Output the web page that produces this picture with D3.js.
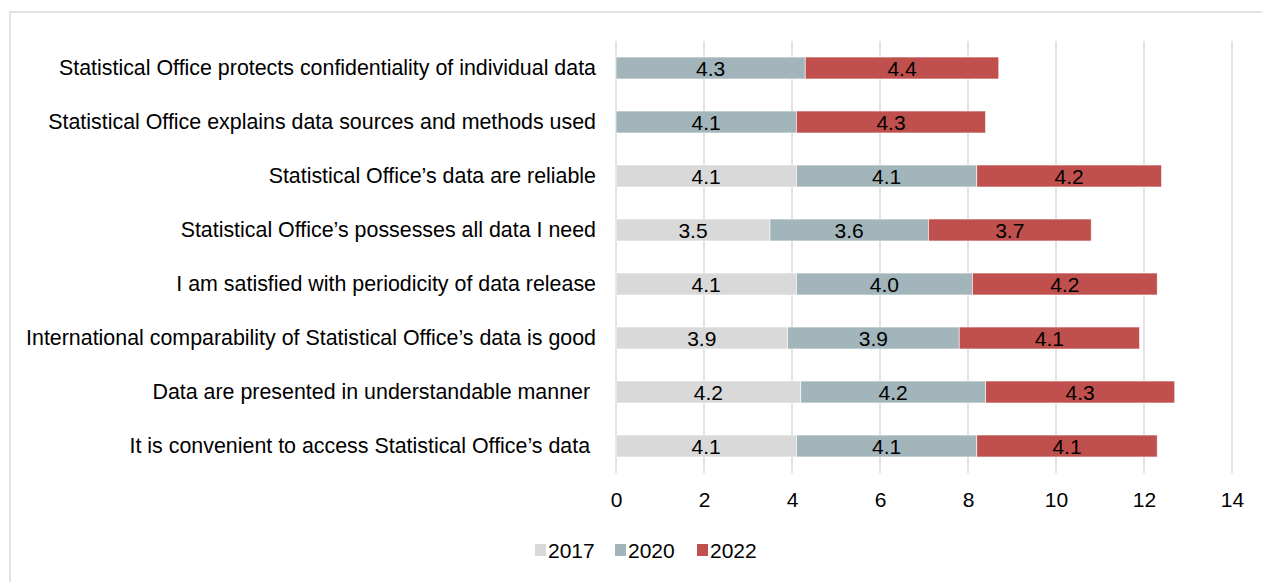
<!DOCTYPE html>
<html>
<head>
<meta charset="utf-8">
<script src="https://cdn.jsdelivr.net/npm/d3@7"></script>
<style>
html,body{margin:0;padding:0;background:#fff;}
svg{display:block;font-family:"Liberation Sans",Arial,sans-serif;}
</style>
</head>
<body>
<svg id="chart" width="1262" height="582"></svg>
<script>
const categories = [
  "Statistical Office protects confidentiality of individual data",
  "Statistical Office explains data sources and methods used",
  "Statistical Office\u2019s data are reliable",
  "Statistical Office\u2019s possesses all data I need",
  "I am satisfied with periodicity of data release",
  "International comparability of Statistical Office\u2019s data is good",
  "Data are presented in understandable manner ",
  "It is convenient to access Statistical Office\u2019s data "
];
const seriesNames = ["2017", "2020", "2022"];
const values2017 = [null, null, 4.1, 3.5, 4.1, 3.9, 4.2, 4.1];
const values2020 = [4.3, 4.1, 4.1, 3.6, 4.0, 3.9, 4.2, 4.1];
const values2022 = [4.4, 4.3, 4.2, 3.7, 4.2, 4.1, 4.3, 4.1];
const xTicks = [0, 2, 4, 6, 8, 10, 12, 14];
const colors = ["#d9d9d9", "#a2b5bb", "#c0504d"];

const svg = d3.select("#chart");
const font = 21;
const catFont = 21.4;

// frame
svg.append("rect").attr("x", 10).attr("y", 12).attr("width", 1300).attr("height", 600)
  .attr("fill", "none").attr("stroke", "#d9d9d9").attr("stroke-width", 1.5);

const x = d3.scaleLinear().domain([0, 14]).range([616, 1232]);
const y = d3.scaleBand().domain(categories).range([41, 473]).paddingInner(0.593).paddingOuter(0.2965);

// gridlines
svg.append("g").selectAll("line").data(xTicks).join("line")
  .attr("x1", d => x(d)).attr("x2", d => x(d))
  .attr("y1", 41).attr("y2", 473)
  .attr("stroke", "#d9d9d9").attr("stroke-width", 1.5);

// stacked data
const rows = categories.map((c, i) => ({cat: c, "2017": values2017[i] || 0, "2020": values2020[i], "2022": values2022[i]}));
const stack = d3.stack().keys(seriesNames)(rows);

const g = svg.append("g");
stack.forEach((layer, si) => {
  const lg = g.append("g");
  const segs = layer.filter(d => d[1] - d[0] > 0);
  lg.selectAll("rect").data(segs).join("rect")
    .attr("x", d => x(d[0]))
    .attr("y", d => y(d.data.cat))
    .attr("width", d => x(d[1]) - x(d[0]))
    .attr("height", y.bandwidth())
    .attr("fill", colors[si])
    .attr("stroke", "#ffffff").attr("stroke-width", 0.6);
  lg.selectAll("text").data(segs).join("text")
    .attr("x", d => (x(d[0]) + x(d[1])) / 2)
    .attr("y", d => y(d.data.cat) + y.bandwidth() / 2)
    .attr("dy", "0.36em")
    .attr("text-anchor", "middle")
    .attr("font-size", font)
    .attr("fill", "#000")
    .text(d => d3.format(".1f")(d[1] - d[0]));
});

// category labels
svg.append("g").selectAll("text").data(categories).join("text")
  .attr("x", 596)
  .attr("y", d => y(d) + y.bandwidth() / 2)
  .attr("dy", "0.33em")
  .attr("text-anchor", "end")
  .attr("font-size", catFont)
  .attr("fill", "#000")
  .style("white-space", "pre")
  .text(d => d);

// x axis
const xAxis = d3.axisBottom(x).tickValues(xTicks).tickSize(0).tickPadding(0).tickFormat(d3.format("d"));
const ax = svg.append("g").attr("transform", "translate(0,492)").call(xAxis);
ax.select(".domain").remove();
ax.selectAll("text").attr("font-size", font).attr("font-family", "Liberation Sans, Arial, sans-serif").attr("fill", "#000");

// legend
const legendX = [535, 615, 697];
const leg = svg.append("g");
seriesNames.forEach((s, i) => {
  leg.append("rect").attr("x", legendX[i]).attr("y", 544).attr("width", 11).attr("height", 12).attr("fill", colors[i]);
  leg.append("text").attr("x", legendX[i] + 13).attr("y", 550).attr("dy", "0.36em")
    .attr("font-size", font).attr("fill", "#000").text(s);
});
</script>
</body>
</html>
